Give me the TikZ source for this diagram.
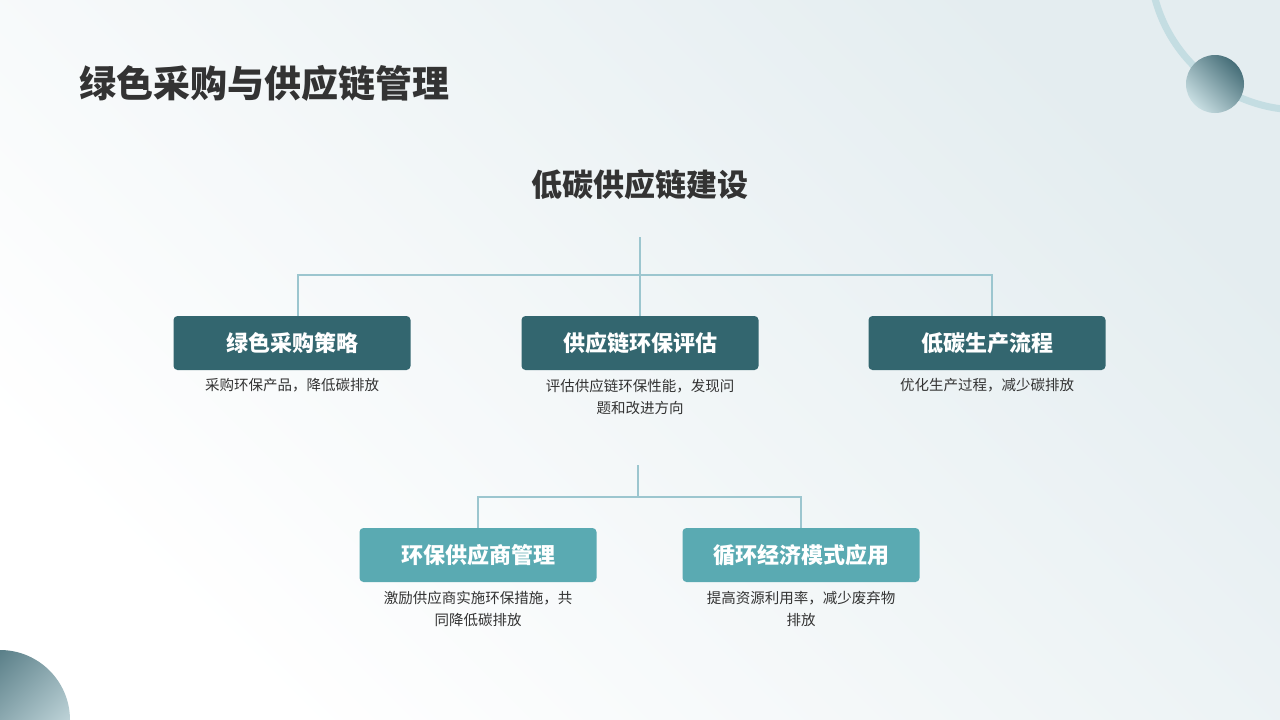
\documentclass[tikz,border=0pt]{standalone}
\usepackage{fontspec}
\setmainfont{Noto Sans CJK SC}
\usetikzlibrary{positioning,calc}
\definecolor{darkteal}{HTML}{33666F}
\definecolor{liteteal}{HTML}{5AAAB2}
\definecolor{linecol}{HTML}{9CC6CF}
\definecolor{txtgray}{HTML}{333333}
\begin{document}
\begin{tikzpicture}[x=1pt, y=-1pt,
        boxdark/.style={fill=darkteal, rounded corners=4pt, minimum width=237pt, minimum height=54pt, text=white, font=\fontsize{22}{22}\selectfont\bfseries},
        boxlite/.style={boxdark, fill=liteteal},
        desc/.style={align=center, font=\fontsize{14.5}{22}\selectfont, text=txtgray, anchor=north},
        conn/.style={draw=linecol, line width=1.2pt}
      ]
      % background
      \shade[left color=white, right color={rgb,255:red,228;green,237;blue,240}, shading angle=135] (0,0) rectangle (1280,720);
      \useasboundingbox (0,0) rectangle (1280,720);
      % decoration
      \draw[linecol!60, line width=7pt] (1300,-40) circle[radius=150];
      \shade[left color={rgb,255:red,200;green,222;blue,226}, right color={rgb,255:red,70;green,110;blue,120}, shading angle=135] (1215,84) circle[radius=29];
      \begin{scope}
        \clip (0,0) rectangle (1280,720);
        \shade[left color={rgb,255:red,70;green,110;blue,120}, right color={rgb,255:red,210;green,228;blue,232}, shading angle=45] (0,720) circle[radius=70];
      \end{scope}

      \node (title) [anchor=west, text=txtgray, font=\fontsize{37}{37}\selectfont\bfseries] at (76,83) {绿色采购与供应链管理};
      \node (head) [text=txtgray, font=\fontsize{31}{31}\selectfont\bfseries] at (640,185) {低碳供应链建设};

      \node (gp) [boxdark] at (292,343) {绿色采购策略};
      \node (ev) [boxdark] at (640,343) {供应链环保评估};
      \node (lc) [boxdark] at (987,343) {低碳生产流程};
      \node (gpd) [desc, below=5pt of gp] {采购环保产品，降低碳排放};
      \node (evd) [desc, below=5pt of ev] {评估供应链环保性能，发现问\\题和改进方向};
      \node (lcd) [desc, below=5pt of lc] {优化生产过程，减少碳排放};

      \node (sm) [boxlite] at (478,555) {环保供应商管理};
      \node (ce) [boxlite] at (801,555) {循环经济模式应用};
      \node (smd) [desc, below=5pt of sm] {激励供应商实施环保措施，共\\同降低碳排放};
      \node (ced) [desc, below=5pt of ce] {提高资源利用率，减少废弃物\\排放};

      \coordinate (t1) at (640,237);
      \coordinate (t2) at (638,465);
      \draw[conn] (t1) -- (640,275);
      \draw[conn] (gp.north -| 298,0) |- (640,275) -| (lc.north -| 992,0);
      \draw[conn] (640,275) -- (ev.north);
      \draw[conn] (t2) -- (638,497);
      \draw[conn] (sm.north) |- (638,497) -| (ce.north);
    \end{tikzpicture}
\end{document}
